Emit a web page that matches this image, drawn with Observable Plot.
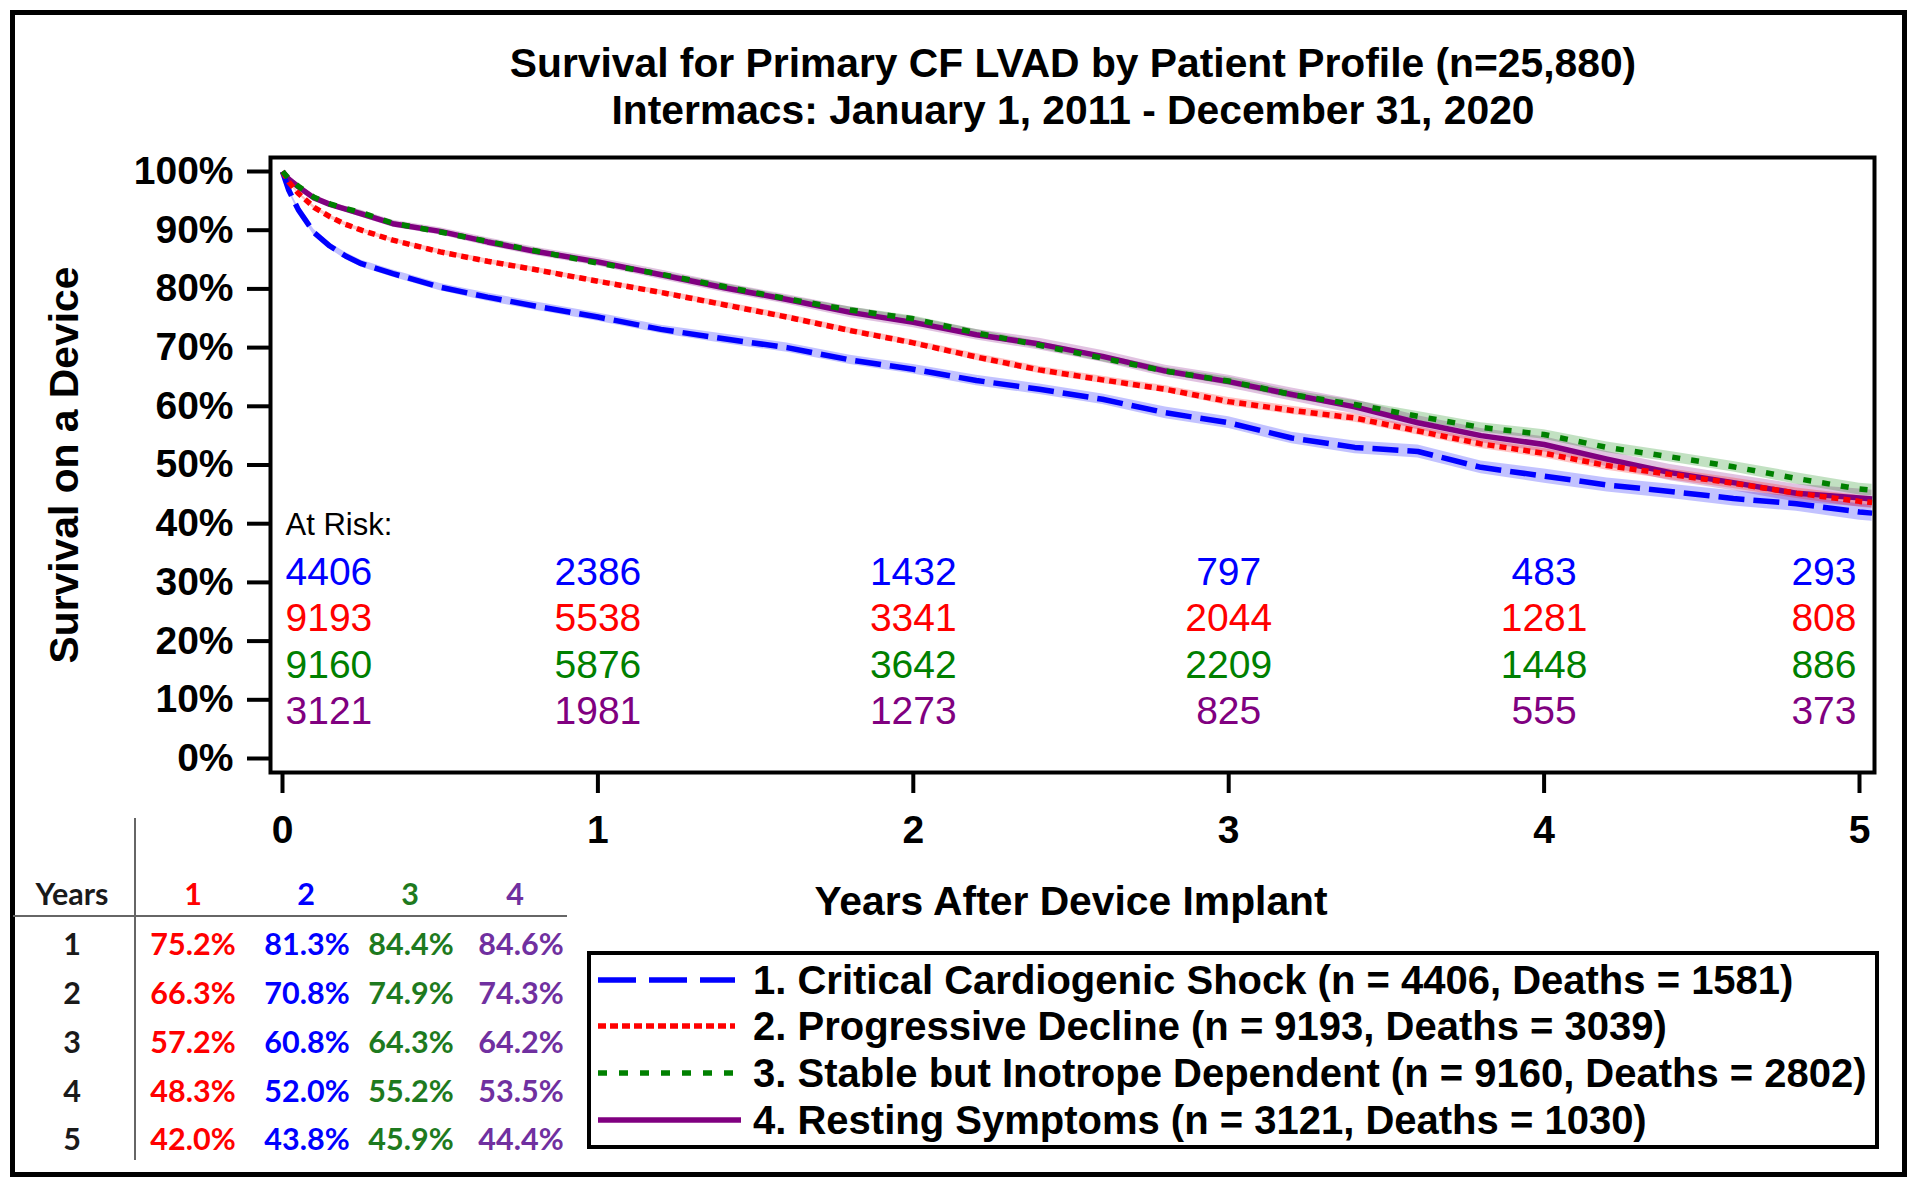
<!DOCTYPE html>
<html>
<head>
<meta charset="utf-8">
<script src="https://cdn.jsdelivr.net/npm/d3@7"></script>
<script src="https://cdn.jsdelivr.net/npm/@observablehq/plot@0.6"></script>
<style>
  html, body { margin: 0; padding: 0; background: #fff; }
  #page { position: relative; width: 1920px; height: 1190px; overflow: hidden; background: #fff; }
  #chart { position: absolute; left: 0; top: 0; }
  #overlay { position: absolute; left: 0; top: 0; pointer-events: none; }
  #outer { position: absolute; left: 10px; top: 10px; width: 1897px; height: 1167px; box-sizing: border-box; border: 5px solid #000; }
</style>
</head>
<body>
<div id="page">
  <div id="outer"></div>
  <div id="chart"></div>
  <svg id="overlay" width="1920" height="1190"></svg>
</div>
<script>
// ---------------- DATA ----------------
const titleLines = [
  "Survival for Primary CF LVAD by Patient Profile (n=25,880)",
  "Intermacs: January 1, 2011 - December 31, 2020"
];
const yAxisTitle = "Survival on a Device";
const xAxisTitle = "Years After Device Implant";

// years after implant (sample points)
const years = [0, 0.02, 0.05, 0.1, 0.15, 0.2, 0.25, 0.35, 0.5, 0.65, 0.8, 1.0, 1.2, 1.4, 1.6, 1.8, 2.0, 2.2, 2.4, 2.6, 2.8, 3.0, 3.2, 3.4, 3.6, 3.8, 4.0, 4.2, 4.4, 4.6, 4.8, 5.0, 5.04];

// survival (%) per profile
const shock       = [100, 96.8, 93.5, 89.6, 87.3, 85.6, 84.3, 82.6, 80.3, 78.6, 77.1, 75.2, 73.1, 71.5, 70.0, 67.9, 66.3, 64.4, 62.9, 61.2, 58.9, 57.2, 54.6, 53.0, 52.3, 49.6, 48.1, 46.6, 45.5, 44.3, 43.4, 42.0, 41.8];
const progressive = [100, 98.2, 96.3, 93.9, 92.3, 91.0, 90.0, 88.3, 86.3, 84.7, 83.3, 81.3, 79.4, 77.3, 75.2, 72.9, 70.8, 68.4, 66.2, 64.5, 62.9, 60.8, 59.3, 58.0, 55.8, 53.6, 52.0, 49.9, 48.4, 46.9, 45.2, 43.8, 43.6];
const stable      = [100, 98.8, 97.5, 95.6, 94.5, 93.7, 93.0, 91.2, 89.7, 88.1, 86.5, 84.4, 82.5, 80.4, 78.3, 76.4, 74.9, 72.5, 70.4, 68.2, 66.0, 64.3, 62.0, 60.3, 58.3, 56.4, 55.2, 53.0, 51.4, 49.7, 47.7, 45.9, 45.7];
const resting     = [100, 98.7, 97.4, 95.5, 94.4, 93.6, 92.8, 91.1, 89.8, 88.0, 86.4, 84.6, 82.4, 80.2, 78.2, 76.0, 74.3, 72.2, 70.6, 68.5, 66.0, 64.2, 62.0, 59.9, 57.2, 55.0, 53.5, 51.0, 48.7, 47.0, 45.2, 44.4, 44.2];

// confidence band half-widths (%)
const ciShock       = [0, 0.3, 0.4, 0.5, 0.5, 0.6, 0.6, 0.6, 0.6, 0.7, 0.7, 0.7, 0.7, 0.8, 0.8, 0.8, 0.8, 0.9, 0.9, 0.9, 1.0, 1.0, 1.0, 1.1, 1.1, 1.1, 1.2, 1.2, 1.2, 1.3, 1.3, 1.4, 1.4];
const ciProgressive = [0, 0.2, 0.2, 0.3, 0.3, 0.3, 0.3, 0.3, 0.4, 0.4, 0.4, 0.4, 0.4, 0.5, 0.5, 0.5, 0.5, 0.6, 0.6, 0.6, 0.6, 0.7, 0.7, 0.7, 0.7, 0.8, 0.8, 0.8, 0.9, 0.9, 0.9, 1.0, 1.0];
const ciStable      = [0, 0.2, 0.2, 0.2, 0.3, 0.3, 0.3, 0.3, 0.3, 0.4, 0.4, 0.4, 0.4, 0.5, 0.5, 0.5, 0.5, 0.6, 0.6, 0.6, 0.6, 0.7, 0.7, 0.7, 0.8, 0.8, 0.8, 0.9, 0.9, 0.9, 1.0, 1.0, 1.0];
const ciResting     = [0, 0.3, 0.4, 0.5, 0.5, 0.5, 0.6, 0.6, 0.6, 0.7, 0.7, 0.7, 0.8, 0.8, 0.8, 0.9, 0.9, 0.9, 1.0, 1.0, 1.0, 1.1, 1.1, 1.2, 1.2, 1.2, 1.3, 1.3, 1.4, 1.4, 1.5, 1.5, 1.5];

const seriesLabels = [
  "1. Critical Cardiogenic Shock (n = 4406, Deaths = 1581)",
  "2. Progressive Decline (n = 9193, Deaths = 3039)",
  "3. Stable but Inotrope Dependent (n = 9160, Deaths = 2802)",
  "4. Resting Symptoms (n = 3121, Deaths = 1030)"
];
const seriesColors = ["#0000ff", "#ff0000", "#008000", "#800080"];

// numbers at risk
const atRiskYears = [0, 1, 2, 3, 4, 5];
const atRiskShock       = [4406, 2386, 1432, 797, 483, 293];
const atRiskProgressive = [9193, 5538, 3341, 2044, 1281, 808];
const atRiskStable      = [9160, 5876, 3642, 2209, 1448, 886];
const atRiskResting     = [3121, 1981, 1273, 825, 555, 373];

// summary table
const tableHeader = ["1", "2", "3", "4"];
const tableYears = [1, 2, 3, 4, 5];
const tableCol1 = ["75.2%", "66.3%", "57.2%", "48.3%", "42.0%"];
const tableCol2 = ["81.3%", "70.8%", "60.8%", "52.0%", "43.8%"];
const tableCol3 = ["84.4%", "74.9%", "64.3%", "55.2%", "45.9%"];
const tableCol4 = ["84.6%", "74.3%", "64.2%", "53.5%", "44.4%"];
const tableColors = ["#ff0000", "#0000ff", "#1e7a1e", "#7030a0"];

const xTicks = [0, 1, 2, 3, 4, 5];
const yTicks = [0, 10, 20, 30, 40, 50, 60, 70, 80, 90, 100];

// ---------------- BUILD ----------------
const FONT = "'Liberation Sans', Arial, Helvetica, sans-serif";
const survival = [shock, progressive, stable, resting];
const cis = [ciShock, ciProgressive, ciStable, ciResting];
const curves = [];
survival.forEach((vals, i) => {
  years.forEach((t, j) => {
    curves.push({series: i, t, s: vals[j], lo: vals[j] - cis[i][j], hi: vals[j] + cis[i][j]});
  });
});
const atRiskAll = [atRiskShock, atRiskProgressive, atRiskStable, atRiskResting];
const atRiskRowLevel = [31.7, 23.8, 15.9, 8.0];
const atRisk = [];
atRiskAll.forEach((arr, i) => arr.forEach((n, j) => atRisk.push({series: i, year: atRiskYears[j], n, level: atRiskRowLevel[i]})));

const dashes = ["26,9", "7,5", "8,11", null];
const drawOrder = [3, 0, 1, 2];

const marks = [];
drawOrder.forEach(i => {
  marks.push(Plot.areaY(curves.filter(d => d.series === i), {x: "t", y1: "lo", y2: "hi", fill: seriesColors[i], fillOpacity: 0.24}));
});
drawOrder.forEach(i => {
  const o = {x: "t", y: "s", stroke: seriesColors[i], strokeWidth: 5.5, strokeLinecap: "butt"};
  if (dashes[i]) o.strokeDasharray = dashes[i];
  marks.push(Plot.line(curves.filter(d => d.series === i), o));
});
marks.push(Plot.text(["At Risk:"], {x: () => 0, y: () => 39.7, text: d => d, textAnchor: "start", dx: 3, fontSize: 31, fill: "#000"}));
const riskOpts = (anchor, dx) => ({x: "year", y: "level", text: d => String(d.n), fill: d => seriesColors[d.series], fontSize: 39, textAnchor: anchor, dx});
marks.push(Plot.text(atRisk.filter(d => d.year === 0), riskOpts("start", 3)));
marks.push(Plot.text(atRisk.filter(d => d.year > 0 && d.year < 5), riskOpts("middle", 0)));
marks.push(Plot.text(atRisk.filter(d => d.year === 5), riskOpts("end", -3)));
marks.push(Plot.axisY(yTicks, {tickFormat: d => d + "%", tickSize: 23, tickPadding: 14, fontSize: 39, fontWeight: "bold", strokeWidth: 4, label: null}));
marks.push(Plot.axisX(xTicks, {tickFormat: d => String(d), tickSize: 21, tickPadding: 22, fontSize: 39, fontWeight: "bold", strokeWidth: 4, label: null}));
marks.push(Plot.frame({stroke: "#000", strokeWidth: 4}));

const chart = Plot.plot({
  width: 1920,
  height: 880,
  marginLeft: 270,
  marginRight: 46,
  marginTop: 157,
  marginBottom: 108,
  x: {domain: [0, 5], insetLeft: 12, insetRight: 15},
  y: {domain: [0, 100], insetTop: 14, insetBottom: 14},
  style: {fontFamily: FONT, color: "#000", background: "transparent", overflow: "visible"},
  marks
});
document.getElementById("chart").appendChild(chart);

// ---------------- OVERLAY: titles, table, legend ----------------
const svg = d3.select("#overlay");
const bold = (sel) => sel.attr("font-family", FONT).attr("font-weight", "bold");

[77, 124].forEach((y, i) => {
  bold(svg.append("text")).attr("x", 1073).attr("y", y).attr("text-anchor", "middle")
    .attr("font-size", 40.8).attr("fill", "#000").text(titleLines[i]);
});
bold(svg.append("text")).attr("transform", "translate(78,465) rotate(-90)").attr("text-anchor", "middle")
  .attr("font-size", 40.8).attr("fill", "#000").text(yAxisTitle);
bold(svg.append("text")).attr("x", 1071).attr("y", 915).attr("text-anchor", "middle")
  .attr("font-size", 40.8).attr("fill", "#000").text(xAxisTitle);

// table
const TFONT = "Lato, 'Open Sans', Calibri, sans-serif";
const tbl = svg.append("g").attr("font-family", TFONT).attr("font-weight", 700).attr("font-size", 30.5);
tbl.append("line").attr("x1", 13).attr("x2", 567).attr("y1", 916).attr("y2", 916).attr("stroke", "#666").attr("stroke-width", 2);
tbl.append("line").attr("x1", 135).attr("x2", 135).attr("y1", 818).attr("y2", 1160).attr("stroke", "#666").attr("stroke-width", 2);
tbl.append("text").attr("x", 72).attr("y", 905).attr("text-anchor", "middle").attr("fill", "#1a1a1a").text("Years");
const headerX = [193, 306, 410, 515];
const colX = [193, 307, 411, 521];
const rowY = [955, 1004, 1053, 1102, 1150];
tableHeader.forEach((h, i) => {
  tbl.append("text").attr("x", headerX[i]).attr("y", 905).attr("text-anchor", "middle").attr("fill", tableColors[i]).text(h);
});
const tableCols = [tableCol1, tableCol2, tableCol3, tableCol4];
tableYears.forEach((yr, r) => {
  tbl.append("text").attr("x", 72).attr("y", rowY[r]).attr("text-anchor", "middle").attr("fill", "#1a1a1a").text(String(yr));
  tableCols.forEach((col, c) => {
    tbl.append("text").attr("x", colX[c]).attr("y", rowY[r]).attr("text-anchor", "middle").attr("fill", tableColors[c]).text(col[r]);
  });
});

// legend
const lg = svg.append("g");
lg.append("rect").attr("x", 589).attr("y", 953).attr("width", 1288).attr("height", 194)
  .attr("fill", "none").attr("stroke", "#000").attr("stroke-width", 4);
const legDash = ["38,13", "8,4", "9,12", null];
const legY = [980, 1026, 1073, 1120];
seriesLabels.forEach((lab, i) => {
  const ln = lg.append("line").attr("x1", 598).attr("x2", i === 3 ? 741 : 735).attr("y1", legY[i]).attr("y2", legY[i])
    .attr("stroke", seriesColors[i]).attr("stroke-width", 5.5);
  if (legDash[i]) ln.attr("stroke-dasharray", legDash[i]);
  bold(lg.append("text")).attr("x", 753).attr("y", legY[i] + 14).attr("font-size", 40).attr("fill", "#000").text(lab);
});
</script>
</body>
</html>
